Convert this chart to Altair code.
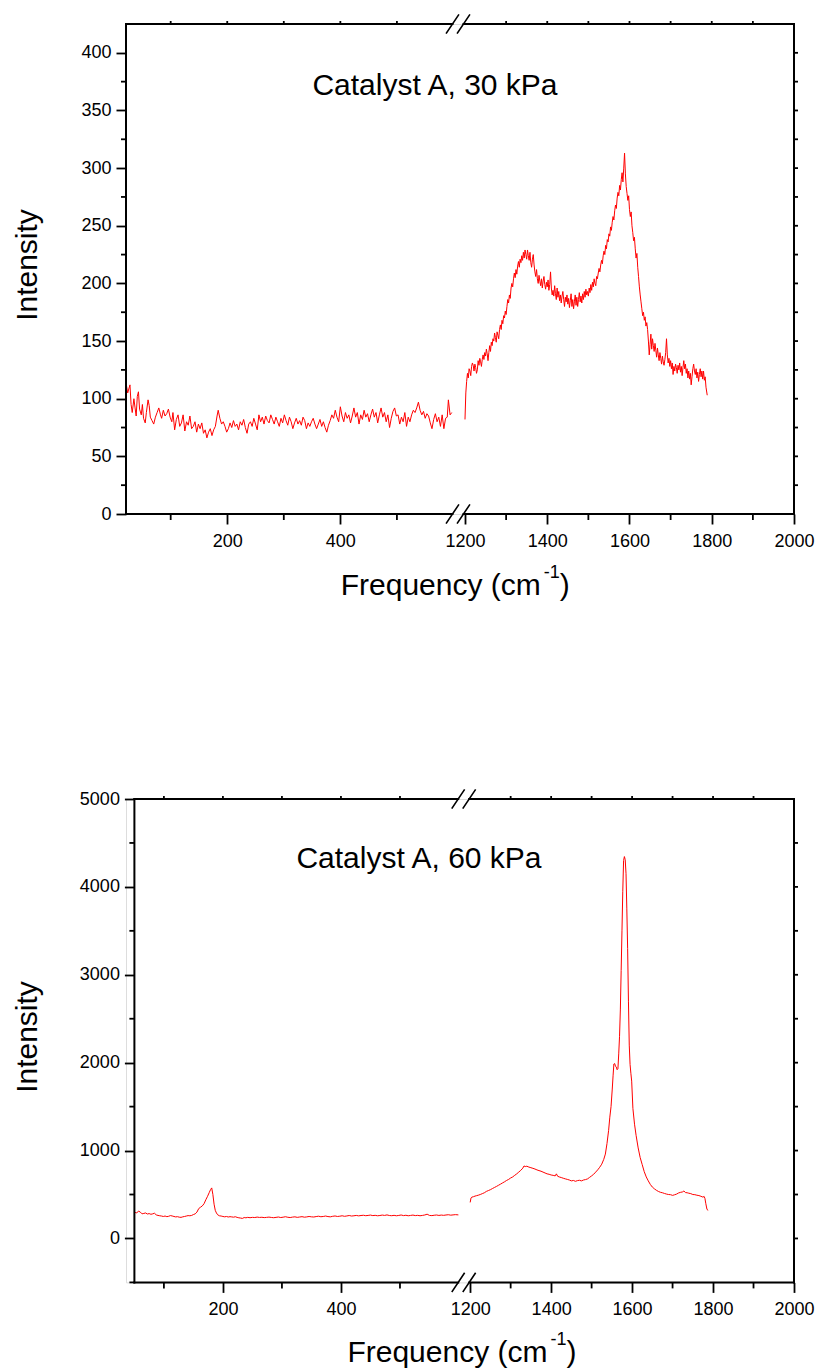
import altair as alt
import pandas as pd

FONT = "Liberation Sans"
RED = "#ff0000"

# ---------------- Panel 1 (30 kPa) ----------------
p1_left_f = [21, 24, 28, 30, 32, 35, 37, 39, 41, 43, 45, 48, 50, 52, 55, 57, 60, 62, 64, 67,
             70, 73, 76, 79, 82, 84, 87, 90, 93, 96, 99, 102, 104, 107, 110, 113, 116, 119, 122, 125,
             128, 131, 134, 137, 140, 143, 146, 149, 152, 155, 158, 161, 164, 167, 170, 173, 176, 179, 182, 184,
             187, 190, 193, 196, 199, 202, 205, 208, 211, 214, 217, 220, 223, 226, 229, 232, 235, 238, 241, 244,
             247, 250, 253, 256, 259, 262, 265, 268, 271, 274, 277, 280, 283, 286, 289, 292, 295, 298, 301, 304,
             307, 310, 313, 316, 319, 322, 325, 328, 331, 334, 337, 340, 343, 346, 349, 352, 355, 358, 361, 364,
             367, 370, 373, 376, 379, 382, 385, 388, 391, 394, 397, 400, 403, 406, 409, 412, 415, 418, 421, 424,
             427, 430, 433, 436, 439, 442, 445, 448, 451, 454, 457, 460, 463, 466, 469, 472, 475, 478, 481, 484,
             487, 490, 493, 496, 499, 502, 505, 508, 511, 514, 517, 520, 523, 526, 529, 532, 535, 538, 541, 544,
             547, 550, 553, 556, 559, 562, 565, 568, 571, 574, 577, 580, 583, 586, 589, 591, 594, 597]
p1_left_i = [114, 105, 112, 95, 88, 100, 92, 85, 102, 106, 91, 86, 95, 83, 79, 88, 99, 94, 84, 81,
             78, 84, 88, 92, 86, 83, 90, 85, 87, 91, 84, 80, 88, 73, 82, 86, 76, 79, 86, 72,
             80, 77, 85, 74, 76, 80, 71, 78, 74, 79, 70, 73, 66, 71, 74, 68, 73, 76, 85, 90,
             83, 78, 80, 76, 71, 74, 79, 75, 81, 76, 78, 73, 80, 77, 82, 75, 70, 78, 80, 76,
             83, 78, 73, 86, 80, 84, 78, 85, 81, 79, 86, 82, 78, 84, 80, 76, 83, 79, 86, 81,
             77, 84, 80, 74, 79, 83, 78, 81, 77, 84, 81, 74, 79, 76, 80, 83, 78, 74, 78, 82,
             76, 80, 75, 71, 77, 81, 86, 83, 90, 84, 80, 93, 85, 80, 88, 83, 86, 79, 85, 92,
             84, 88, 78, 86, 82, 90, 84, 87, 80, 86, 91, 84, 88, 79, 86, 92, 84, 88, 80, 86,
             75, 83, 89, 92, 85, 86, 78, 84, 80, 88, 76, 84, 80, 86, 90, 88, 92, 97, 90, 86,
             89, 83, 87, 85, 79, 74, 82, 87, 80, 84, 76, 86, 74, 83, 84, 99, 86, 88]

p1_right_f = [1200, 1202, 1204, 1206, 1208, 1210, 1212, 1214, 1216, 1218, 1220, 1222, 1224, 1226, 1228, 1230,
              1232, 1234, 1236, 1238, 1240, 1242, 1244, 1246, 1248, 1250, 1252, 1254, 1256, 1258, 1260, 1262,
              1264, 1266, 1268, 1270, 1272, 1274, 1276, 1278, 1280, 1282, 1284, 1286, 1288, 1290, 1292, 1294,
              1296, 1298, 1300, 1302, 1304, 1306, 1308, 1310, 1312, 1314, 1316, 1318, 1320, 1322, 1324, 1326,
              1328, 1330, 1332, 1334, 1336, 1338, 1340, 1342, 1344, 1346, 1348, 1350, 1352, 1354, 1356, 1358,
              1360, 1362, 1364, 1366, 1368, 1370, 1372, 1374, 1376, 1378, 1380, 1382, 1384, 1386, 1388, 1390,
              1392, 1394, 1396, 1398, 1400, 1402, 1404, 1406, 1408, 1410, 1412, 1414, 1416, 1418, 1420, 1422,
              1424, 1426, 1428, 1430, 1432, 1434, 1436, 1438, 1440, 1442, 1444, 1446, 1448, 1450, 1452, 1454,
              1456, 1458, 1460, 1462, 1464, 1466, 1468, 1470, 1472, 1474, 1476, 1478, 1480, 1482, 1484, 1486,
              1488, 1490, 1492, 1494, 1496, 1498, 1500, 1502, 1504, 1506, 1508, 1510, 1512, 1514, 1516, 1518,
              1520, 1522, 1524, 1526, 1528, 1530, 1532, 1534, 1536, 1538, 1540, 1542, 1544, 1546, 1548, 1550,
              1552, 1554, 1556, 1558, 1560, 1562, 1564, 1566, 1568, 1570, 1572, 1574, 1576, 1578, 1580, 1582,
              1584, 1586, 1588, 1590, 1592, 1594, 1596, 1598, 1600, 1602, 1604, 1606, 1608, 1610, 1612, 1614,
              1616, 1618, 1620, 1622, 1624, 1626, 1628, 1630, 1632, 1634, 1636, 1638, 1640, 1642, 1644, 1646,
              1648, 1650, 1652, 1654, 1656, 1658, 1660, 1662, 1664, 1666, 1668, 1670, 1672, 1674, 1676, 1678,
              1680, 1682, 1684, 1686, 1688, 1690, 1692, 1694, 1696, 1698, 1700, 1702, 1704, 1706, 1708, 1710,
              1712, 1714, 1716, 1718, 1720, 1722, 1724, 1726, 1728, 1730, 1732, 1734, 1736, 1738, 1740, 1742,
              1744, 1746, 1748, 1750, 1752, 1754, 1756, 1758, 1760, 1762, 1764, 1766, 1768, 1770, 1772, 1774,
              1776, 1778, 1780, 1782, 1784, 1786, 1789]
p1_right_i = [82, 105, 115, 122, 118, 126, 124, 120, 128, 131, 129, 124, 130, 127, 122, 125,
              133, 129, 135, 132, 128, 134, 138, 134, 140, 137, 143, 139, 133, 140, 146, 141,
              149, 146, 152, 150, 157, 153, 149, 158, 155, 152, 160, 164, 160, 168, 165, 172,
              170, 176, 173, 180, 186, 183, 190, 187, 196, 200, 197, 204, 209, 205, 212, 208,
              215, 219, 214, 221, 218, 224, 220, 227, 222, 229, 225, 221, 229, 224, 220, 227,
              218, 214, 221, 225, 216, 210, 206, 212, 204, 200, 207, 202, 198, 204, 196, 202,
              206, 199, 195, 201, 197, 203, 194, 199, 210, 196, 190, 194, 189, 198, 191, 186,
              196, 188, 193, 185, 190, 183, 189, 193, 186, 180, 188, 184, 190, 182, 187, 179,
              185, 191, 180, 186, 178, 184, 190, 181, 188, 180, 186, 192, 184, 189, 183, 191,
              186, 193, 188, 195, 190, 193, 189, 196, 192, 199, 194, 201, 197, 204, 200, 198,
              206, 204, 209, 213, 210, 216, 220, 217, 224, 228, 225, 233, 230, 238, 236, 243,
              241, 249, 246, 253, 258, 255, 263, 268, 265, 274, 279, 276, 285, 281, 290, 296,
              288, 300, 313, 295, 284, 278, 272, 276, 264, 258, 262, 250, 244, 237, 240, 230,
              222, 226, 214, 206, 197, 190, 184, 178, 172, 175, 168, 171, 163, 166, 160, 150,
              138, 147, 156, 143, 152, 146, 141, 148, 142, 136, 144, 138, 133, 140, 135, 130,
              137, 132, 129, 134, 140, 152, 138, 131, 135, 128, 133, 126, 131, 121, 128, 124,
              130, 127, 122, 129, 125, 131, 123, 128, 120, 127, 133, 126, 130, 122, 126, 118,
              124, 117, 122, 112, 119, 126, 130, 124, 121, 126, 118, 123, 115, 121, 126, 119,
              124, 117, 124, 116, 119, 110, 103]

# ---------------- Panel 2 (60 kPa) ----------------
p2_left_f = [51, 54, 57, 60, 63, 66, 69, 72, 75, 78, 81, 84, 87, 90, 93, 96, 99, 102, 105, 108,
             111, 114, 117, 120, 123, 126, 129, 132, 135, 138, 141, 144, 147, 150, 153, 156, 159, 162, 165, 168,
             171, 174, 177, 179, 181, 183, 185, 187, 189, 191, 194, 197, 200, 203, 206, 209, 212, 215, 218, 221,
             224, 227, 230, 233, 236, 239, 242, 246, 250, 254, 258, 262, 266, 270, 274, 278, 282, 286, 290, 294,
             298, 302, 306, 310, 314, 318, 322, 326, 330, 334, 338, 342, 346, 350, 354, 358, 362, 366, 370, 374,
             378, 382, 386, 390, 394, 398, 402, 406, 410, 414, 418, 422, 426, 430, 434, 438, 442, 446, 450, 454,
             458, 462, 466, 470, 474, 478, 482, 486, 490, 494, 498, 502, 506, 510, 514, 518, 522, 526, 530, 534,
             538, 542, 546, 550, 554, 558, 562, 566, 570, 574, 578, 582, 586, 590, 594, 599]
p2_left_i = [296, 290, 312, 300, 280, 285, 290, 278, 283, 275, 280, 287, 268, 262, 258, 255, 250, 255, 248, 252,
             260, 256, 250, 245, 248, 242, 240, 246, 250, 255, 260, 258, 262, 272, 280, 300, 340, 355, 370, 395,
             440, 480, 525, 555, 575, 500, 390, 320, 290, 270, 258, 255, 250, 246, 250, 244, 248, 245, 242, 247,
             240, 235, 232, 228, 238, 235, 240, 236, 240, 238, 243, 239, 241, 237, 240, 243, 239, 236, 240, 244,
             238, 242, 247, 241, 238, 243, 246, 240, 244, 248, 242, 245, 250, 246, 244, 249, 253, 247, 250, 255,
             249, 246, 252, 256, 250, 253, 258, 252, 256, 261, 255, 258, 262, 257, 261, 264, 259, 262, 266, 260,
             263, 258, 261, 266, 262, 268, 261, 259, 263, 258, 262, 267, 260, 264, 258, 262, 266, 260, 263, 258,
             262, 267, 276, 262, 260, 264, 267, 262, 266, 263, 267, 270, 265, 268, 271, 268]

p2_right_f = [1200, 1202, 1204, 1208, 1212, 1216, 1220, 1225, 1230, 1235, 1240, 1245, 1250, 1255, 1260, 1265,
              1270, 1275, 1280, 1285, 1290, 1295, 1300, 1305, 1310, 1315, 1320, 1325, 1330, 1333, 1336, 1340,
              1345, 1350, 1355, 1360, 1365, 1370, 1375, 1380, 1385, 1390, 1395, 1400, 1405, 1410, 1413, 1416,
              1420, 1425, 1430, 1435, 1440, 1445, 1450, 1455, 1460, 1465, 1470, 1475, 1480, 1485, 1490, 1495,
              1500, 1505, 1510, 1515, 1520, 1525, 1530, 1534, 1538, 1542, 1545, 1548, 1551, 1553, 1555, 1557,
              1559, 1561, 1563, 1565, 1567, 1569, 1571, 1573, 1575, 1577, 1579, 1581, 1583, 1585, 1587, 1589,
              1591, 1593, 1595, 1597, 1599, 1602, 1606, 1610, 1615, 1620, 1625, 1630, 1635, 1640, 1645, 1650,
              1655, 1660, 1665, 1670, 1675, 1680, 1685, 1690, 1695, 1700, 1705, 1710, 1715, 1720, 1725, 1728,
              1732, 1736, 1740, 1745, 1750, 1755, 1760, 1765, 1770, 1775, 1778, 1780, 1782, 1785, 1788]
p2_right_i = [410, 460, 470, 475, 482, 487, 492, 500, 510, 520, 535, 545, 555, 568, 580, 592,
              605, 618, 632, 645, 660, 672, 688, 700, 718, 735, 755, 775, 800, 825, 818, 822,
              812, 805, 798, 790, 780, 772, 765, 755, 745, 735, 730, 722, 718, 712, 735, 708,
              700, 693, 685, 678, 672, 665, 655, 660, 650, 658, 662, 655, 665, 670, 678, 695,
              712, 730, 755, 780, 810, 845, 900, 960, 1080, 1230, 1380, 1500, 1700, 1850, 1985, 1990,
              1960, 1950, 1920, 1930, 2100, 2300, 2600, 3050, 3500, 3950, 4300, 4345, 4310, 4150, 3750, 3300,
              2700, 2200, 1980, 1880, 1790, 1480, 1300, 1170, 1030, 920, 840, 760, 700, 655, 615, 585,
              565, 548, 535, 525, 520, 512, 505, 500, 498, 490, 497, 505, 518, 525, 530, 540,
              522, 520, 515, 510, 500, 498, 492, 488, 480, 470, 478, 455, 400, 330, 320]

# ---------------- axis ticks / labels ----------------
x_major = [200, 400, 1200, 1400, 1600, 1800, 2000]
x_minor = [100, 300, 500, 1300, 1500, 1700, 1900]
x_top = [100, 200, 300, 400, 500, 1300, 1400, 1500, 1600, 1700, 1800, 1900]

p1_y_major = [0, 50, 100, 150, 200, 250, 300, 350, 400]
p1_y_minor = [25, 75, 125, 175, 225, 275, 325, 375]
p1_y_right = [25, 50, 75, 100, 125, 150, 175, 200, 225, 250, 275, 300, 325, 350, 375, 400]

p2_y_major = [0, 1000, 2000, 3000, 4000, 5000]
p2_y_minor = [-500, 500, 1500, 2500, 3500, 4500]
p2_y_right = [0, 500, 1000, 1500, 2000, 2500, 3000, 3500, 4000, 4500]

ONE = alt.Data(values=[{"k": 0}])


def seg(x1, y1, x2, y2, w=2.0):
    return alt.Chart(ONE).mark_rule(color="black", strokeWidth=w, strokeCap="square").encode(
        x=alt.value(x1), y=alt.value(y1), x2=alt.value(x2), y2=alt.value(y2))


def txt(s, x, y, size, angle=0, align="left"):
    return alt.Chart(ONE).mark_text(
        text=s, font=FONT, fontSize=size, color="black", align=align,
        baseline="alphabetic", angle=angle).encode(x=alt.value(x), y=alt.value(y))


def panel(lf, li, rf, ri, xdom, brk, W, H, ydom, ymaj, ymin, yright, label, lab_xy,
          ytitle_xy, xt_x, xt_y, dx=0.0):
    """dx: horizontal inset of the plot frame inside the view."""
    df = pd.DataFrame({
        "f": list(lf) + list(rf),
        "v": list(li) + list(ri),
        "seg": ["L"] * len(lf) + ["R"] * len(rf),
    })
    xs = alt.Scale(domain=xdom, range=[dx, dx + brk, dx + brk, dx + W], nice=False, zero=False)
    ys = alt.Scale(domain=ydom, nice=False, zero=False)
    common = dict(title=None, domain=False, grid=False, tickSize=10, tickWidth=1.8,
                  tickColor="black", labelFont=FONT, labelFontSize=18, labelColor="black",
                  labelFlush=False, labelOverlap=False, format="d")
    xaxis = alt.Axis(values=x_major, labelPadding=8, **common)
    yaxis = alt.Axis(values=ymaj, labelPadding=5, offset=-dx, **common)
    line = alt.Chart(df).mark_line(color=RED, strokeWidth=1).encode(
        x=alt.X("f:Q", scale=xs, axis=xaxis),
        y=alt.Y("v:Q", scale=ys, axis=yaxis),
        detail="seg:N", order="f:Q")

    def xt(vals, y1, y2):
        return alt.Chart(pd.DataFrame({"f": vals})).mark_rule(color="black", strokeWidth=1.8).encode(
            x=alt.X("f:Q", scale=xs, axis=xaxis), y=alt.value(y1), y2=alt.value(y2))

    def yt(vals, x1, x2):
        return alt.Chart(pd.DataFrame({"v": vals})).mark_rule(color="black", strokeWidth=1.8).encode(
            y=alt.Y("v:Q", scale=ys, axis=yaxis), x=alt.value(x1), x2=alt.value(x2))

    g = 5.5   # half distance between the two break slashes
    L, R, B = dx, dx + W, dx + brk
    layers = [
        line,
        xt(x_minor, H, H + 6),
        xt(x_top, 0, -3),
        yt(ymin, L - 5, L),
        yt(yright, R, R + 4),
        # frame
        seg(L, 0, L, H),
        seg(R, 0, R, H),
        seg(L, H, B - g, H),
        seg(B + g, H, R, H),
        seg(L, 0, B - g, 0),
        seg(B + g, 0, R, 0),
        # break marks
        seg(B - g - 6, H + 9, B - g + 6, H - 9, 1.6),
        seg(B + g - 6, H + 9, B + g + 6, H - 9, 1.6),
        seg(B - g - 6, 9, B - g + 6, -9, 1.6),
        seg(B + g - 6, 9, B + g + 6, -9, 1.6),
        # texts
        txt(label, L + lab_xy[0], lab_xy[1], 30),
        txt("Intensity", L + ytitle_xy[0], ytitle_xy[1], 30, angle=270, align="center"),
        txt("Frequency (cm", L + xt_x, H + xt_y, 30),
        txt("-1", L + xt_x + 203, H + xt_y - 17, 18),
        txt(")", L + xt_x + 219, H + xt_y, 30),
    ]
    return alt.layer(*layers).properties(width=dx + W, height=H)


p1 = panel(p1_left_f, p1_left_i, p1_right_f, p1_right_i,
           xdom=[21, 608, 1183, 2000], brk=332, W=668, H=490,
           ydom=[0, 425], ymaj=p1_y_major, ymin=p1_y_minor, yright=p1_y_right,
           label="Catalyst A, 30 kPa", lab_xy=(186.4, 71), ytitle_xy=(-89.3, 241),
           xt_x=214.7, xt_y=81)

p2 = panel(p2_left_f, p2_left_i, p2_right_f, p2_right_i,
           xdom=[50, 608, 1184, 2000], brk=329.3, W=659.6, H=483.4,
           ydom=[-500, 5000], ymaj=p2_y_major, ymin=p2_y_minor, yright=p2_y_right,
           label="Catalyst A, 60 kPa", lab_xy=(162, 69), ytitle_xy=(-97.7, 238),
           xt_x=213, xt_y=80, dx=8.4)

chart = alt.concat(p1, p2, columns=1, spacing=186, bounds="full", align="none").properties(
    padding={"left": 12, "top": 13, "right": 0, "bottom": 0}
).configure_view(stroke=None).configure(background="white")

chart.save("out.html", embed_options={"renderer": "svg", "actions": False})
